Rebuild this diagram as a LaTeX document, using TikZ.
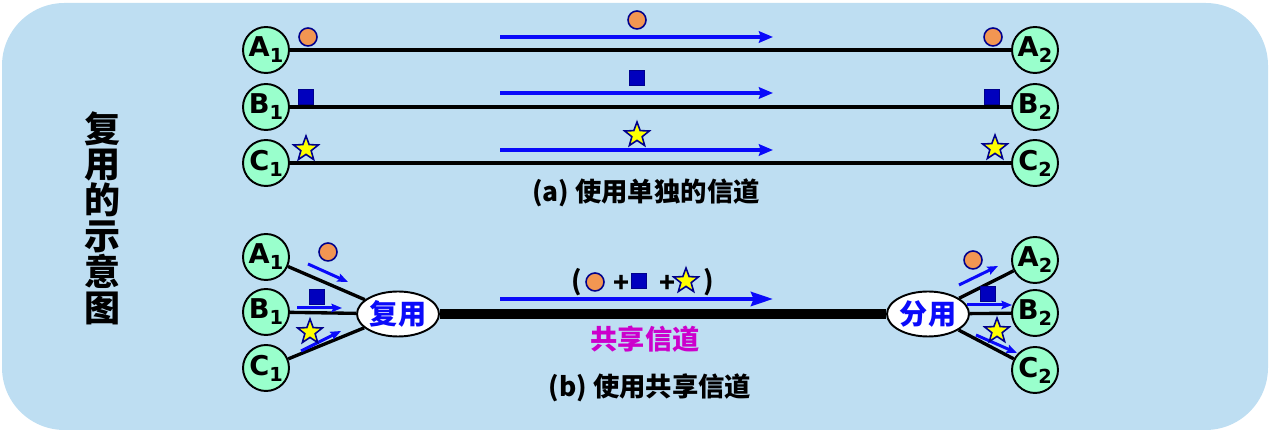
\documentclass[tikz,border=0pt]{standalone}
\usepackage{fontspec}
\setmainfont{DejaVu Sans}
\newfontfamily\cjk{Noto Sans CJK SC}
\usetikzlibrary{arrows.meta,shapes.geometric}
\definecolor{cBack} {RGB}{190,222,242}
\definecolor{cStn}  {RGB}{153,255,204}
\definecolor{cOra}  {RGB}{242,150,82}
\definecolor{cSq}   {RGB}{0,0,190}
\definecolor{cEdge} {RGB}{0,0,140}
\definecolor{cStar} {RGB}{255,255,0}
\definecolor{cArr}  {RGB}{10,10,250}
\definecolor{cMag}  {RGB}{204,0,204}

\newcommand{\stn}[2]{\bfseries #1\raisebox{-3.4pt}{\fontsize{11}{11}\selectfont #2}}

\begin{document}
\begin{tikzpicture}[
  x=0.02cm,y=-0.02cm,
  stn/.style={draw,circle,fill=cStn,line width=1.1pt,minimum size=0.92cm,inner sep=0pt,
              font=\fontsize{15.5}{15.5}\selectfont},
  mux/.style={draw,ellipse,fill=white,line width=1.1pt,minimum width=1.64cm,minimum height=0.9cm,
              inner sep=0pt,text=cArr,font=\cjk\bfseries\fontsize{16}{16}\selectfont},
  dot/.style={draw=cEdge,circle,fill=cOra,line width=0.9pt,minimum size=0.36cm,inner sep=0pt},
  sq/.style={draw=cEdge,fill=cSq,line width=0.6pt,minimum size=0.3cm,inner sep=0pt},
  st/.style={draw=cEdge,star,star points=5,star point ratio=2.4,fill=cStar,line width=0.9pt,
             minimum size=0.52cm,inner sep=0pt},
  wire/.style={line width=1.9pt},
  flow/.style={cArr,line width=2.3pt,-{Stealth[length=8pt,width=6.5pt,inset=1pt]}},
  bigflow/.style={cArr,line width=2.4pt,-{Stealth[length=12.5pt,width=8pt,inset=1.5pt]}},
  small/.style={cArr,line width=1.7pt,-{Stealth[length=6pt,width=4.8pt,inset=1pt]}},
  lbl/.style={font=\cjk\bfseries\fontsize{15}{15}\selectfont},
]
\useasboundingbox (0,0) rectangle (1269,431);
\fill[cBack,rounded corners=1.25cm] (2,3) rectangle (1268,430);

% ------------------------------------------------------------------ title
\node[font=\cjk\bfseries\fontsize{20.5}{20.4}\selectfont,align=center] (title) at (103,218)
     {复\\用\\的\\示\\意\\图};

% ------------------------------------------------------------ (a) separate
\node[stn] (a1) at (266,50)  {\stn{A}{1}};
\node[stn] (b1) at (266,107) {\stn{B}{1}};
\node[stn] (c1) at (266,163) {\stn{C}{1}};
\node[stn] (a2) at (1035,50)  {\stn{A}{2}};
\node[stn] (b2) at (1035,107) {\stn{B}{2}};
\node[stn] (c2) at (1035,163) {\stn{C}{2}};

\draw[wire] (a1) -- (a2);
\draw[wire] (b1) -- (b2);
\draw[wire] (c1) -- (c2);

\draw[flow] (500,37)  -- (773,37);
\draw[flow] (500,93)  -- (773,93);
\draw[flow] (500,150) -- (773,150);

\node[dot] (oa1) at (308,37)  {};
\node[dot] (oam) at (637,20)  {};
\node[dot] (oa2) at (993,37)  {};
\node[sq]  (sb1) at (306,97)  {};
\node[sq]  (sbm) at (637,78)  {};
\node[sq]  (sb2) at (992,97)  {};
\node[st]  (tc1) at (306,149) {};
\node[st]  (tcm) at (637,135) {};
\node[st]  (tc2) at (995,148) {};

\node[lbl] (capa) at (646,193) {(a) 使用单独的信道};

% -------------------------------------------------------------- (b) shared
\node[stn] (ma1) at (266,257) {\stn{A}{1}};
\node[stn] (mb1) at (266,312) {\stn{B}{1}};
\node[stn] (mc1) at (266,368) {\stn{C}{1}};
\node[stn] (ma2) at (1035,260) {\stn{A}{2}};
\node[stn] (mb2) at (1035,313) {\stn{B}{2}};
\node[stn] (mc2) at (1035,370) {\stn{C}{2}};

\node[mux] (mx) at (398,314) {复用};
\node[mux] (dx) at (928,314) {分用};

\draw[wire] (ma1) -- (mx);
\draw[wire] (mb1) -- (mx);
\draw[wire] (mc1) -- (mx);
\draw[wire] (dx) -- (ma2);
\draw[wire] (dx) -- (mb2);
\draw[wire] (dx) -- (mc2);
\draw[line width=5.7pt] (mx) -- (dx);

% small arrows into / out of the multiplexers
\draw[small] (308,264) -- (348,282);
\draw[small] (297,308) -- (342,308);
\draw[small] (301,351) -- (341,331);
\draw[small] (959,285) -- (998,266);
\draw[small] (967,305) -- (1012,305);
\draw[small] (976,335) -- (1017,353);

\node[dot] (ob1) at (328,252) {};
\node[sq]  (sl1) at (317,297) {};
\node[st]  (tl1) at (310,332) {};
\node[dot] (ob2) at (973,260) {};
\node[sq]  (sr2) at (988,294) {};
\node[st]  (tr2) at (997,331) {};

\draw[bigflow] (500,299) -- (773,299);
\node[lbl] (lp)  at (577,282) {(};
\node[dot] (om)  at (595,282) {};
\node[lbl] (p1)  at (622,284) {+};
\node[sq]  (sm)  at (639,281) {};
\node[lbl] (p2)  at (668,284) {+};
\node[st]  (tm)  at (686,281) {};
\node[lbl] (rp)  at (709,282) {)};

\node[font=\cjk\bfseries\fontsize{15.5}{15.5}\selectfont,text=cMag] (shared) at (645,339) {共享信道};
\node[lbl] (capb) at (650,388) {(b) 使用共享信道};

\end{tikzpicture}
\end{document}
